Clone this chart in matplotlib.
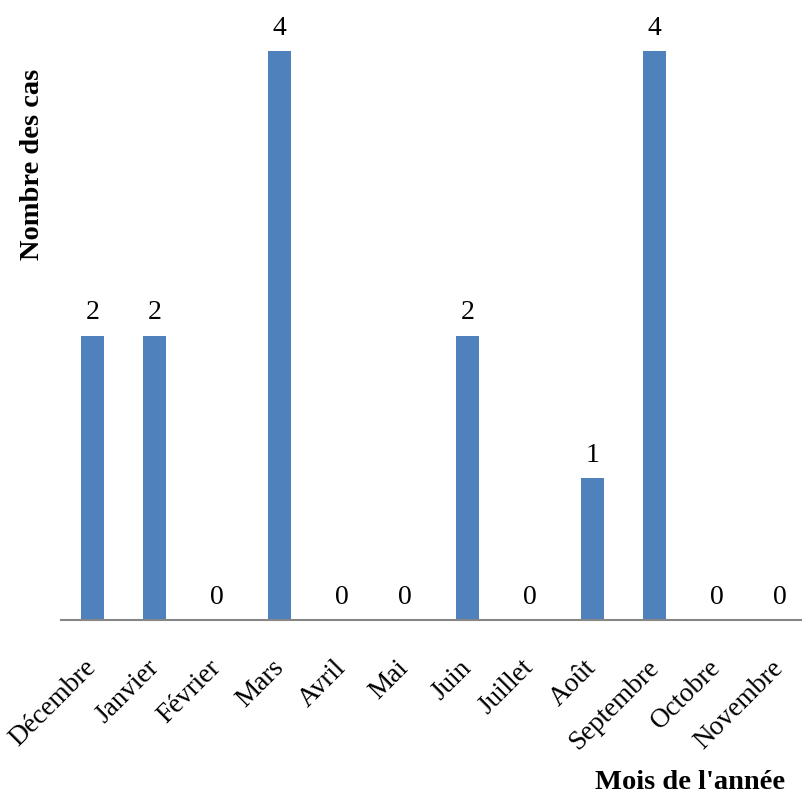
import numpy as np
import matplotlib.pyplot as plt

months = ["Décembre", "Janvier", "Février", "Mars", "Avril", "Mai",
          "Juin", "Juillet", "Août", "Septembre", "Octobre", "Novembre"]
cases = [2, 2, 0, 4, 0, 0, 2, 0, 1, 4, 0, 0]

plt.rcParams['font.family'] = 'Liberation Serif'

W, H = 802, 803
fig = plt.figure(figsize=(W / 100, H / 100), dpi=100)
# axes: left edge at x=61 px, baseline at y=621 px, value 4 at y=52 px
ax = fig.add_axes([61 / W, (H - 621) / H, 750 / W, 569 / H])

x = np.arange(len(months))
bars = ax.bar(x, cases, width=0.37, color='#4F81BD')

for xi, v in zip(x, cases):
    ax.annotate(str(v), (xi, v), xytext=(0, 8), textcoords='offset points',
                ha='center', va='bottom', fontsize=20, annotation_clip=False)

ax.set_xlim(-0.5, len(months) - 0.5)
ax.set_ylim(0, 4)
ax.set_yticks([])
ax.set_xticks(x)
ax.set_xticklabels(months, rotation=45, ha='right', va='center',
                   rotation_mode='anchor', fontsize=19.5)
ax.tick_params(axis='x', length=0, pad=31)

for side in ['top', 'right', 'left']:
    ax.spines[side].set_visible(False)
ax.spines['bottom'].set_color('#868686')
ax.spines['bottom'].set_linewidth(1.5)

fig.text(33 / W, 1 - 164 / H, "Nombre des cas", rotation=90, fontsize=20.5,
         fontweight='bold', ha='center', va='center')
fig.text(690 / W, 1 - 783 / H, "Mois de l'année", fontsize=20.5,
         fontweight='bold', ha='center', va='center')

fig.savefig("out.png", dpi=100)
